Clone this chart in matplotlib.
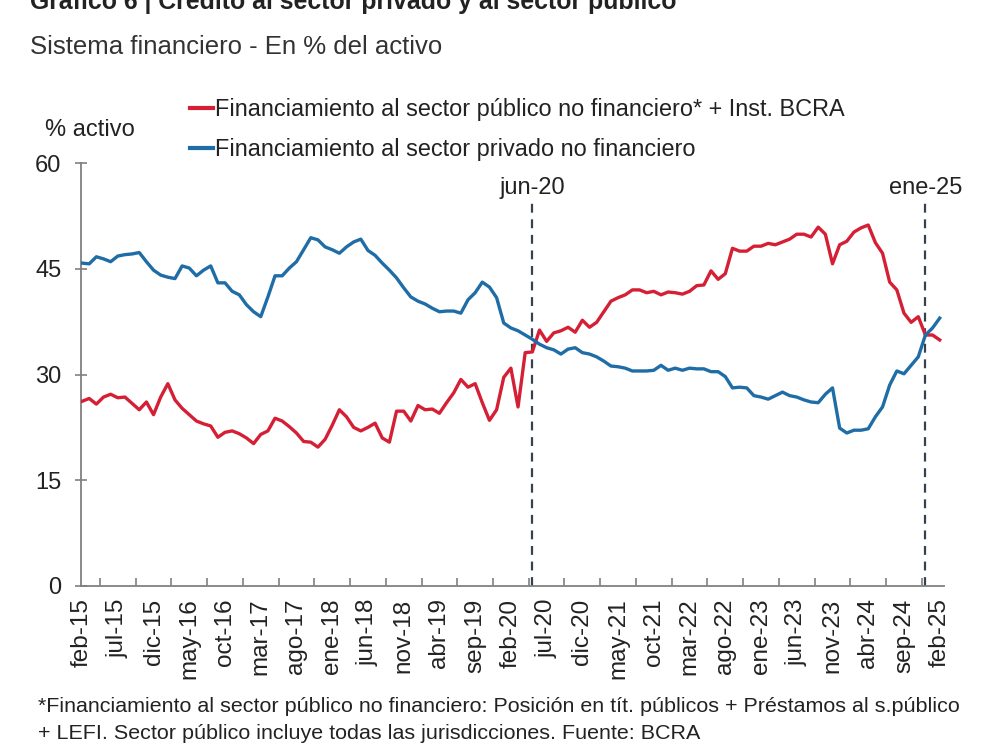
import matplotlib
matplotlib.use("Agg")
import matplotlib.pyplot as plt
from matplotlib.lines import Line2D

plt.rcParams['font.family'] = ['Liberation Sans', 'DejaVu Sans']

# ---------------- data (monthly, feb-15 .. feb-25) ----------------
tick_labels = ['feb-15', 'jul-15', 'dic-15', 'may-16', 'oct-16', 'mar-17', 'ago-17',
               'ene-18', 'jun-18', 'nov-18', 'abr-19', 'sep-19', 'feb-20', 'jul-20',
               'dic-20', 'may-21', 'oct-21', 'mar-22', 'ago-22', 'ene-23', 'jun-23',
               'nov-23', 'abr-24', 'sep-24', 'feb-25']

publico = [26.2, 26.6, 25.8, 26.8, 27.2, 26.7, 26.8, 25.9, 25.0, 26.1,
           24.3, 26.8, 28.7, 26.4, 25.2, 24.3, 23.4, 23.0, 22.7, 21.1,
           21.8, 22.0, 21.6, 21.0, 20.2, 21.5, 22.0, 23.8, 23.4, 22.6,
           21.7, 20.5, 20.4, 19.7, 20.8, 22.8, 25.0, 24.0, 22.5, 22.0,
           22.5, 23.1, 21.0, 20.4, 24.8, 24.8, 23.4, 25.6, 25.0, 25.1,
           24.5, 26.0, 27.4, 29.3, 28.2, 28.7, 26.0, 23.5, 25.0, 29.6,
           30.9, 25.4, 33.1, 33.2, 36.3, 34.7, 35.9, 36.2, 36.7, 36.0,
           37.7, 36.7, 37.4, 38.9, 40.4, 40.9, 41.3, 42.0, 42.0, 41.6,
           41.8, 41.3, 41.7, 41.6, 41.4, 41.8, 42.6, 42.7, 44.7, 43.5,
           44.3, 47.9, 47.5, 47.5, 48.2, 48.2, 48.6, 48.4, 48.8, 49.2,
           49.9, 49.9, 49.5, 50.9, 49.9, 45.7, 48.4, 48.9, 50.2, 50.8,
           51.2, 48.7, 47.2, 43.1, 42.0, 38.7, 37.4, 38.2, 35.6, 35.6,
           34.9]

privado = [45.8, 45.7, 46.7, 46.4, 46.0, 46.8, 47.0, 47.1, 47.3, 46.0,
           44.8, 44.1, 43.8, 43.6, 45.4, 45.1, 44.0, 44.8, 45.4, 43.0,
           43.0, 41.8, 41.3, 39.9, 38.9, 38.2, 41.0, 44.0, 44.0, 45.1,
           46.0, 47.7, 49.4, 49.1, 48.1, 47.7, 47.2, 48.1, 48.8, 49.2,
           47.6, 46.9, 45.8, 44.8, 43.7, 42.3, 41.0, 40.4, 40.0, 39.4,
           38.9, 39.0, 39.0, 38.7, 40.6, 41.6, 43.1, 42.4, 40.9, 37.3,
           36.6, 36.2, 35.6, 35.0, 34.3, 33.8, 33.5, 32.9, 33.6, 33.8,
           33.1, 32.9, 32.5, 31.9, 31.2, 31.1, 30.9, 30.5, 30.5, 30.5,
           30.6, 31.3, 30.6, 30.9, 30.6, 30.9, 30.8, 30.8, 30.4, 30.4,
           29.7, 28.1, 28.2, 28.1, 27.0, 26.8, 26.5, 27.0, 27.5, 27.0,
           26.8, 26.4, 26.1, 26.0, 27.2, 28.1, 22.4, 21.7, 22.1, 22.1,
           22.3, 24.0, 25.4, 28.5, 30.5, 30.1, 31.3, 32.5, 35.6, 36.6,
           38.0]

series_names = ['Financiamiento al sector público no financiero* + Inst. BCRA',
                'Financiamiento al sector privado no financiero']
marker_labels = ['jun-20', 'ene-25']
y_ticks = [0, 15, 30, 45, 60]

# ---------------- styling ----------------
RED = '#D51F35'
BLUE = '#1F6DA6'
DASH = '#37424F'
AXC = '#808080'

W, H = 992, 744
fig = plt.figure(figsize=(W / 100, H / 100), dpi=100)
fig.patch.set_facecolor('white')

def fx(px):
    return px / W

def fy(py):
    return 1 - py / H

ax = fig.add_axes([fx(81), fy(586), fx(944) - fx(81), fy(163) - fy(586)])

x = list(range(len(publico)))
ax.plot(x, publico, color=RED, lw=2.4, solid_joinstyle='round', zorder=3)
ax.plot(x, privado, color=BLUE, lw=2.4, solid_joinstyle='round', zorder=3)

ax.set_xlim(-0.15, len(publico) - 1 + 0.6)
ax.set_ylim(0, 60)

for s in ['top', 'right']:
    ax.spines[s].set_visible(False)
for s in ['left', 'bottom']:
    ax.spines[s].set_color(AXC)
    ax.spines[s].set_linewidth(1.3)

ax.set_yticks(y_ticks)
ax.set_yticklabels([str(v) for v in y_ticks], fontsize=17, color='#222222')
ax.tick_params(axis='y', direction='inout', length=8, width=1.2, color=AXC, pad=10)

label_pos = [5 * i for i in range(len(tick_labels))]
ax.set_xticks(label_pos)
ax.set_xticklabels(tick_labels, rotation=90, fontsize=17.5, color='#222222')
ax.tick_params(axis='x', which='major', length=0, pad=9)
ax.set_xticks([5 * i + 2.5 for i in range(len(tick_labels) - 1)], minor=True)
ax.tick_params(axis='x', which='minor', direction='in', length=6, width=1.2, color=AXC)

# vertical dashed markers
for xpos, lab in zip([63, 118], marker_labels):
    ax.plot([xpos, xpos], [0, 55.0], color=DASH, lw=1.6, ls=(0, (4, 3)), zorder=2)
    ax.text(xpos, 55.6, lab, ha='center', va='baseline', fontsize=17, color='#222222')

# title & subtitle
fig.text(fx(30), fy(9), 'Gráfico 6 | Crédito al sector privado y al sector público',
         fontsize=17.9, fontweight='bold', color='#222222', va='baseline', ha='left')
fig.text(fx(30), fy(54), 'Sistema financiero - En % del activo',
         fontsize=18.5, color='#333333', va='baseline', ha='left')

# legend (manual)
fig.add_artist(Line2D([fx(190), fx(213)], [fy(108), fy(108)], color=RED, lw=3))
fig.add_artist(Line2D([fx(190), fx(213)], [fy(148), fy(148)], color=BLUE, lw=3))
fig.text(fx(215), fy(116), series_names[0], fontsize=16.9, color='#222222', va='baseline')
fig.text(fx(215), fy(156), series_names[1], fontsize=16.9, color='#222222', va='baseline')
fig.text(fx(45), fy(136), '% activo', fontsize=17, color='#222222', va='baseline')

# footnote
fig.text(fx(38), fy(712), '*Financiamiento al sector público no financiero: Posición en tít. públicos + Préstamos al s.público',
         fontsize=15.45, color='#222222', va='baseline')
fig.text(fx(38), fy(739), '+ LEFI. Sector público incluye todas las jurisdicciones. Fuente: BCRA',
         fontsize=15.45, color='#222222', va='baseline')

fig.savefig('out.png', dpi=100, facecolor='white')
